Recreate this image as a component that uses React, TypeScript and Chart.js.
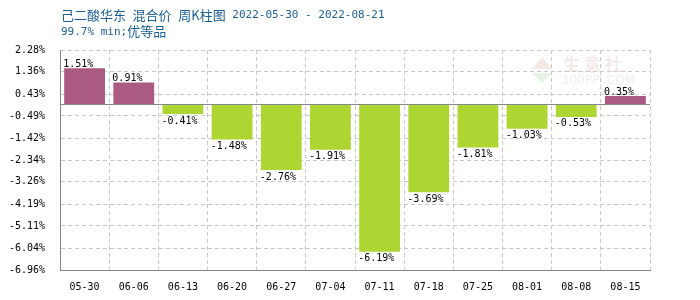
import { useEffect, useRef } from "react";
import { Chart, registerables } from "chart.js";

Chart.register(...registerables);

const categories = ["05-30", "06-06", "06-13", "06-20", "06-27", "07-04", "07-11", "07-18", "07-25", "08-01", "08-08", "08-15"];
const changes = [1.51, 0.91, -0.41, -1.48, -2.76, -1.91, -6.19, -3.69, -1.81, -1.03, -0.53, 0.35];
const yTicks = [2.28, 1.36, 0.43, -0.49, -1.42, -2.34, -3.26, -4.19, -5.11, -6.04, -6.96];
const titleParts = ["己二酸华东", "混合价", "周K柱图"];
const titleRange = "2022-05-30 - 2022-08-21";
const subtitleSpec = "99.7% min;";
const subtitleGrade = "优等品";
const watermarkMain = "生 意 社";
const watermarkSub = "100PPI.COM";

const UP = "#AB5A82";
const DOWN = "#ADD632";
const MONO = '"DejaVu Sans Mono", "Liberation Mono", monospace';
const CJK = '"Noto Sans CJK SC", sans-serif';
const TITLE_COLOR = "#1B5E8F";

const fmt = (v: number) => v.toFixed(2) + "%";

const watermarkPlugin = {
  id: "watermark",
  beforeDatasetsDraw(chart: any) {
    const { ctx, chartArea } = chart;
    ctx.save();
    ctx.textAlign = "left";
    ctx.textBaseline = "middle";
    const wx = chartArea.right - 118;
    const wy = chartArea.top + 15;
    ctx.fillStyle = "rgba(225,200,200,0.4)";
    ctx.font = `bold 17px ${CJK}`;
    ctx.fillText(watermarkMain, wx + 31, wy);
    ctx.fillStyle = "rgba(210,210,210,0.4)";
    ctx.font = `12px "DejaVu Sans", sans-serif`;
    ctx.fillText(watermarkSub, wx + 30, wy + 16);
    ctx.fillStyle = "rgba(220,150,150,0.22)";
    ctx.beginPath();
    ctx.moveTo(wx + 10, wy - 8);
    ctx.lineTo(wx, wy + 4);
    ctx.lineTo(wx + 20, wy + 4);
    ctx.closePath();
    ctx.fill();
    ctx.fillStyle = "rgba(150,200,150,0.22)";
    ctx.beginPath();
    ctx.moveTo(wx, wy + 8);
    ctx.lineTo(wx + 20, wy + 8);
    ctx.lineTo(wx + 10, wy + 18);
    ctx.closePath();
    ctx.fill();
    ctx.restore();
  },
};

const titlePlugin = {
  id: "customTitle",
  afterDraw(chart: any) {
    const { ctx, chartArea } = chart;
    ctx.save();
    ctx.fillStyle = TITLE_COLOR;
    ctx.textBaseline = "middle";
    ctx.textAlign = "left";
    const monoFont = `11px ${MONO}`;
    const cjkFont = `13px ${CJK}`;
    let x = chartArea.left + 1;
    const y1 = 15;
    ctx.font = monoFont;
    const space = ctx.measureText(" ").width;
    titleParts.forEach((p, i) => {
      ctx.font = cjkFont;
      ctx.fillText(p, x, y1);
      x += ctx.measureText(p).width;
      if (i < titleParts.length - 1) x += space;
    });
    ctx.font = monoFont;
    x += space;
    ctx.fillText(titleRange, x, y1);

    const y2 = 32;
    x = chartArea.left + 1;
    ctx.font = monoFont;
    ctx.fillText(subtitleSpec, x, y2);
    x += ctx.measureText(subtitleSpec).width;
    ctx.font = cjkFont;
    ctx.fillText(subtitleGrade, x, y2 - 1);
    ctx.restore();
  },
};

const zeroAndLabels = {
  id: "zeroAndLabels",
  afterDatasetsDraw(chart: any) {
    const { ctx, chartArea, scales } = chart;
    const y0 = Math.round(scales.y.getPixelForValue(0)) + 0.5;
    ctx.save();
    ctx.strokeStyle = "#888888";
    ctx.lineWidth = 1;
    ctx.beginPath();
    ctx.moveTo(chartArea.left, y0);
    ctx.lineTo(chartArea.right, y0);
    ctx.stroke();

    const meta = chart.getDatasetMeta(0);
    ctx.font = `10px ${MONO}`;
    ctx.fillStyle = "#000";
    ctx.textAlign = "left";
    meta.data.forEach((bar: any, i: number) => {
      const v = changes[i];
      const left = bar.x - bar.width / 2 - 1;
      if (v >= 0) {
        ctx.textBaseline = "bottom";
        ctx.fillText(fmt(v), left, bar.y + 1);
      } else {
        ctx.textBaseline = "top";
        ctx.fillText(fmt(v), left, bar.y + 2);
      }
    });
    ctx.restore();
  },
};

export default function App() {
  const ref = useRef<HTMLCanvasElement | null>(null);

  useEffect(() => {
    if (!ref.current) return;
    const minV = yTicks[yTicks.length - 1];
    const maxV = yTicks[0];
    const chart = new Chart(ref.current, {
      type: "bar",
      data: {
        labels: categories,
        datasets: [
          {
            data: changes,
            backgroundColor: changes.map((v) => (v >= 0 ? UP : DOWN)),
            borderWidth: 0,
            barPercentage: 0.83,
            categoryPercentage: 1,
          },
        ],
      },
      options: {
        animation: false,
        responsive: false,
        devicePixelRatio: 1,
        layout: { padding: { left: 0, top: 50, right: 50, bottom: 0 } },
        plugins: {
          legend: { display: false },
          title: { display: false },
          tooltip: { enabled: false },
        },
        scales: {
          x: {
            grid: {
              offset: true,
              drawTicks: false,
              color: (c: any) => (c.index === 0 ? "rgba(0,0,0,0)" : "#C8C8C8"),
              lineWidth: 1,
            },
            border: { display: true, color: "#858585", width: 1, dash: [4, 3] },
            ticks: {
              color: "#000",
              font: { family: MONO, size: 10 },
              padding: 11,
              maxRotation: 0,
              autoSkip: false,
            },
            afterFit: (s: any) => {
              s.height = 30;
            },
          },
          y: {
            min: minV,
            max: maxV,
            afterBuildTicks: (s: any) => {
              s.ticks = yTicks.map((v) => ({ value: v }));
            },
            grid: {
              drawTicks: false,
              color: (c: any) => (c.tick && c.tick.value === minV ? "rgba(0,0,0,0)" : "#C8C8C8"),
              lineWidth: 1,
            },
            border: { display: true, color: "#858585", width: 1, dash: [4, 3] },
            ticks: {
              color: "#000",
              font: { family: MONO, size: 10 },
              padding: 15,
              callback: (v: any) => fmt(Number(v)),
            },
            afterFit: (s: any) => {
              s.width = 60;
            },
          },
        },
      },
      plugins: [watermarkPlugin, zeroAndLabels, titlePlugin],
    });
    return () => chart.destroy();
  }, []);

  return (
    <div style={{ position: "absolute", left: 0, top: 0, width: 700, height: 300, background: "#fff" }}>
      <canvas ref={ref} width={700} height={300} style={{ display: "block" }} />
    </div>
  );
}
